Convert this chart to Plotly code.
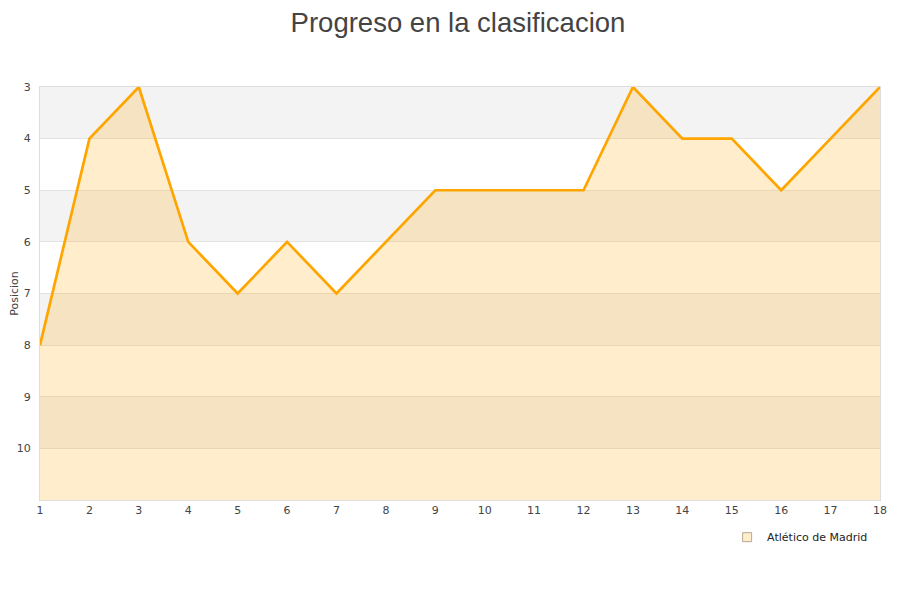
import plotly.graph_objects as go

jornadas = list(range(1, 19))
posiciones = [8, 4, 3, 6, 7, 6, 7, 6, 5, 5, 5, 5, 3, 4, 4, 5, 4, 3]
equipo = "Atlético de Madrid"
y_ticks = [3, 4, 5, 6, 7, 8, 9, 10]
y_min, y_max = 3, 11

fig = go.Figure()

# baseline at bottom of the reversed axis for the fill
fig.add_trace(go.Scatter(x=jornadas, y=[y_max] * len(jornadas), mode="lines",
                         line=dict(width=0), showlegend=False, hoverinfo="skip"))
fig.add_trace(go.Scatter(x=jornadas, y=posiciones, mode="lines", fill="tonexty",
                         fillcolor="rgba(255,165,0,0.2)",
                         line=dict(color="#FFA500", width=2.7), name=equipo, showlegend=False))
# legend entry
fig.add_trace(go.Scatter(x=[None], y=[None], mode="markers", name=equipo,
                         marker=dict(symbol="square", size=9, color="#FFEDCC",
                                     line=dict(color="#B8A890", width=1))))

shapes = []
for b in range(y_min, y_max, 2):
    shapes.append(dict(type="rect", xref="paper", yref="y", x0=0, x1=1, y0=b, y1=b + 1,
                       fillcolor="#F3F3F3", line=dict(width=0), layer="below"))

fig.update_layout(
    width=900, height=600,
    margin=dict(l=32, r=28, t=79, b=108, autoexpand=False),
    paper_bgcolor="white", plot_bgcolor="white",
    title=dict(text="Progreso en la clasificacion", x=0.5, xanchor="center",
               y=1.0, yanchor="top", pad=dict(t=5),
               font=dict(family="Liberation Sans, Arial", size=27.5, color="#444444")),
    shapes=shapes,
    showlegend=True,
    legend=dict(x=0.818, y=-0.09, xanchor="left", yanchor="middle",
                font=dict(family="DejaVu Sans", size=11, color="#222222"),
                bgcolor="rgba(0,0,0,0)"),
    xaxis=dict(range=[1, 18], tickvals=jornadas, showgrid=False, zeroline=False,
               showline=True, linecolor="#DDDDDD", linewidth=1, mirror=True, automargin=False,
               ticks="", tickfont=dict(family="DejaVu Sans", size=11, color="#444444")),
    yaxis=dict(range=[y_max, y_min], tickvals=y_ticks, showgrid=True, gridcolor="#E3E3E3",
               zeroline=False, showline=True, linecolor="#DDDDDD", linewidth=1, mirror=True,
               automargin=False, ticklabelstandoff=6,
               ticks="", tickfont=dict(family="DejaVu Sans", size=11, color="#444444"),
               title=dict(text="Posicion", standoff=6,
                          font=dict(family="DejaVu Sans", size=11, color="#444444"))),
)

fig.write_html("out.html")
